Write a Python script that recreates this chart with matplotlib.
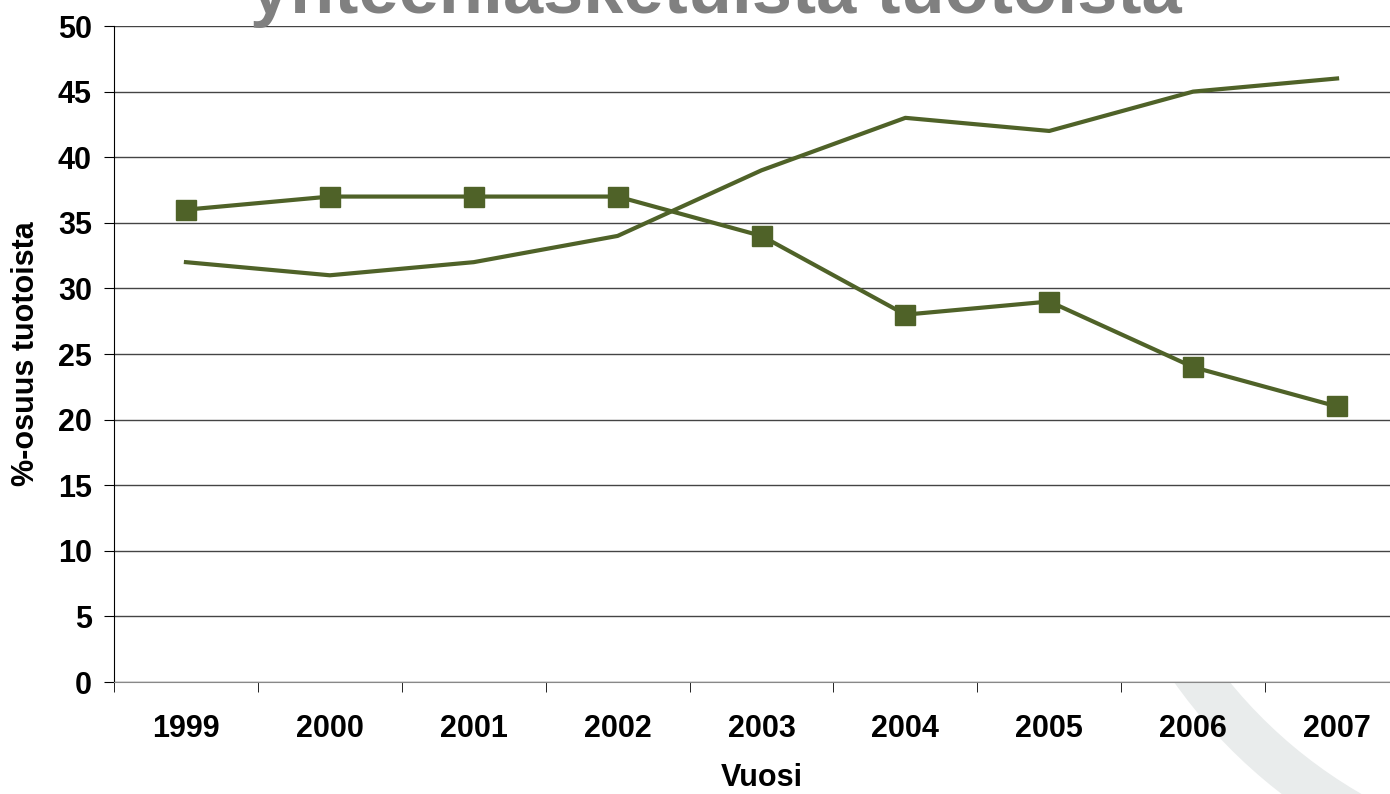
import matplotlib.pyplot as plt
import numpy as np
from matplotlib.patches import Arc

years = ['1999', '2000', '2001', '2002', '2003', '2004', '2005', '2006', '2007']
series_sq = [36, 37, 37, 37, 34, 28, 29, 24, 21]
series_line = [32, 31, 32, 34, 39, 43, 42, 45, 46]

plt.rcParams['font.family'] = ['Liberation Sans', 'DejaVu Sans']
plt.rcParams['font.weight'] = 'bold'

fig = plt.figure(figsize=(13.9, 7.94), dpi=100)

# faint watermark arc in the lower right corner
wm = fig.add_axes([0, 0, 1, 1], zorder=-1)
wm.set_xlim(0, 1390)
wm.set_ylim(794, 0)
wm.axis('off')
wm.add_patch(Arc((1600, 380), 1000, 1000, theta1=100, theta2=160, color='#e9ecec', lw=32))

# plot area runs a little past the right edge of the figure
ax = fig.add_axes([114 / 1390, 1 - 682 / 794, 1295 / 1390, (682 - 26) / 794])
ax.patch.set_facecolor('white')
x = np.arange(len(years))
green = '#4f6228'
ax.plot(x, series_sq, 's-', color=green, lw=3, ms=14.5)
ax.plot(x, series_line, '-', color=green, lw=3)

ax.set_xlim(-0.5, len(years) - 0.5)
ax.set_ylim(0, 50)
ax.set_yticks(np.arange(0, 51, 5))
ax.set_xticks(x)
ax.set_xticklabels(years)
ax.set_xticks(np.arange(-0.5, len(years)), minor=True)
ax.tick_params(axis='x', which='major', length=0, pad=23, labelsize=22)
ax.tick_params(axis='x', which='minor', length=7, direction='out', color='black')
ax.tick_params(axis='y', length=7, labelsize=22, pad=9)
ax.grid(axis='y', color='#444444', lw=1)
ax.set_axisbelow(True)
for s in ['top', 'right']:
    ax.spines[s].set_visible(False)
ax.spines['bottom'].set_color('#888888')
ax.spines['left'].set_color('black')

ax.set_xlabel('Vuosi', fontsize=22, fontweight='bold', labelpad=14)
ax.set_ylabel('%-osuus tuotoista', fontsize=22, fontweight='bold', labelpad=12)

fig.text(0.515, 1 - 13 / 794, 'yhteenlasketuista tuotoista', fontsize=52,
         fontweight='bold', color='#808080', ha='center', va='baseline')

fig.savefig('out.png', dpi=100)
